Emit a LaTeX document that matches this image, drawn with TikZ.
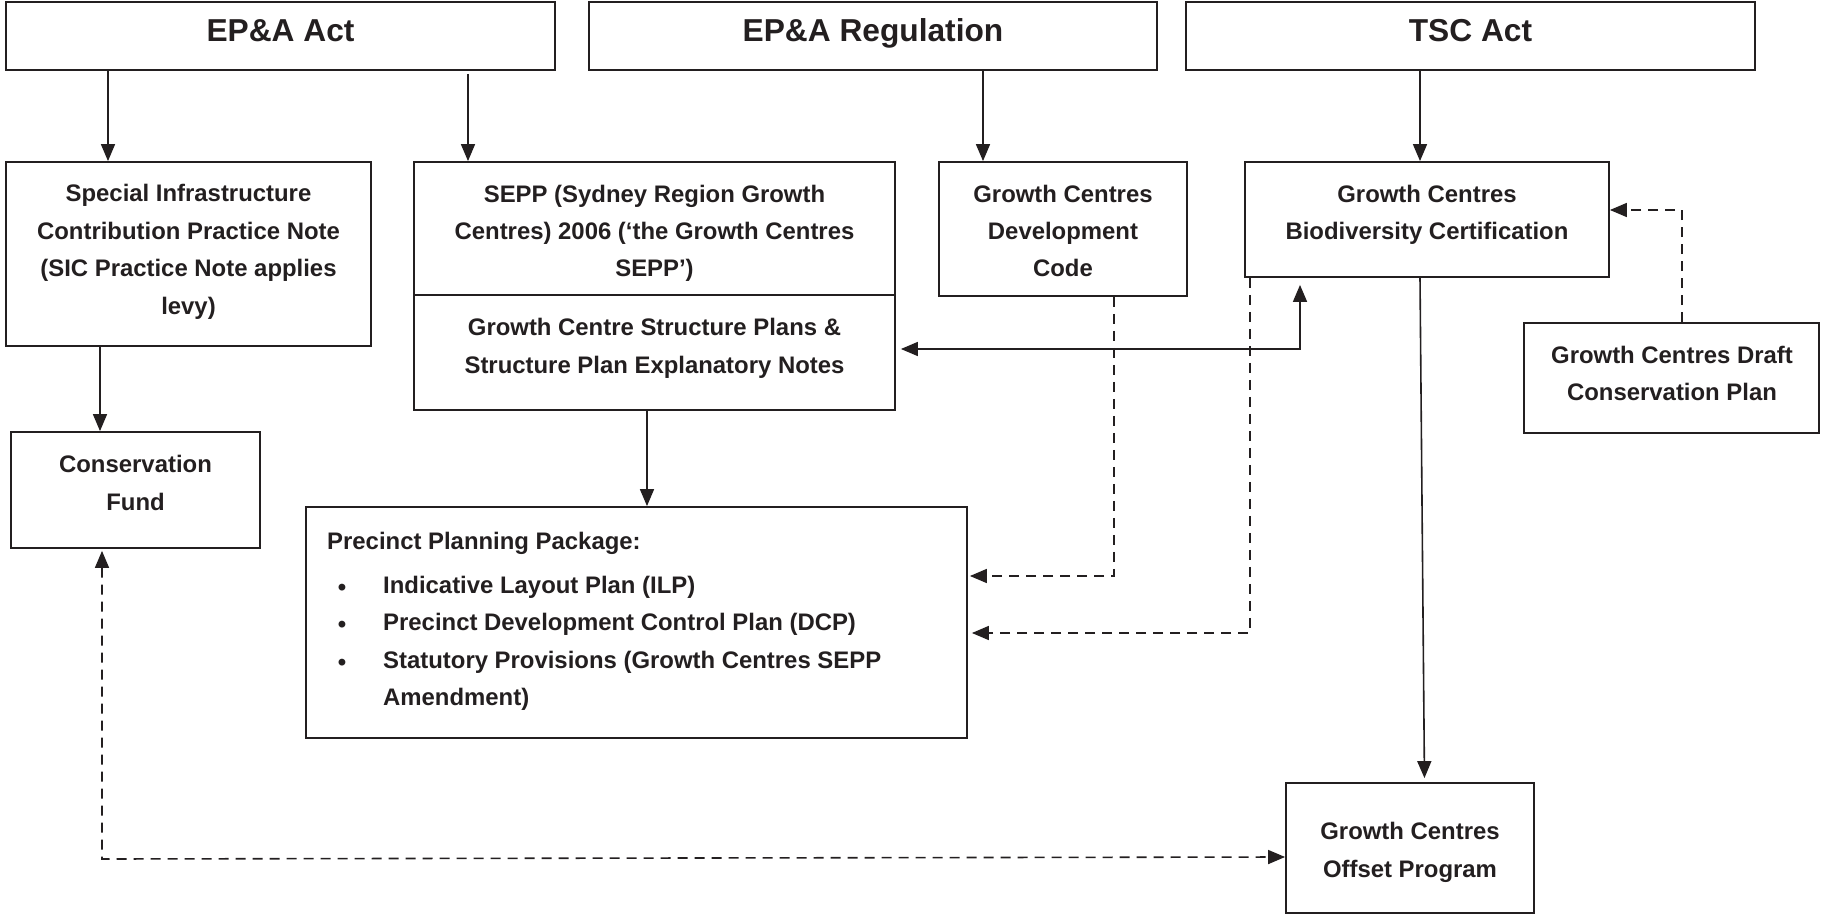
\documentclass[tikz,border=0pt]{standalone}
\usepackage{fontspec}
\setmainfont{Liberation Sans}
\usetikzlibrary{arrows.meta}
\definecolor{ink}{HTML}{231F20}
\newcommand{\bodyf}{\fontsize{23.9pt}{37.4pt}\selectfont\bfseries}
\newcommand{\titlef}{\fontsize{31.7pt}{38pt}\selectfont\bfseries}
\begin{document}
\begin{tikzpicture}[x=1pt,y=-1pt,
  >={Triangle[length=17pt,width=14pt]},
  box/.style={draw=ink, line width=1.8pt, inner sep=0pt},
  txt/.style={text=ink, font=\bodyf, align=center, inner sep=0pt},
  ttl/.style={text=ink, font=\titlef, inner sep=0pt, anchor=base},
  conn/.style={draw=ink, line width=1.6pt, ->},
  dconn/.style={conn, dash pattern=on 10pt off 7pt},
]
\useasboundingbox (0,0) rectangle (1821,915);

% top level acts
\node[box, minimum width=549pt, minimum height=68pt] (epa) at (280.5,36) {};
\node[ttl] (epaT) at (280.5,42) {EP\&A Act};
\node[box, minimum width=568pt, minimum height=68pt] (reg) at (873,36) {};
\node[ttl] (regT) at (873,42) {EP\&A Regulation};
\node[box, minimum width=569pt, minimum height=68pt] (tsc) at (1470.5,36) {};
\node[ttl] (tscT) at (1470.5,42) {TSC Act};

% second row
\node[box, minimum width=365pt, minimum height=184pt] (sic) at (188.5,254) {};
\node[txt] (sicT) at (188.5,250.5) {\strut Special Infrastructure\\Contribution Practice Note\\(SIC Practice Note applies\\levy)\strut};

\node[box, minimum width=481pt, minimum height=133pt] (seppA) at (654.5,228.5) {};
\node[txt] (seppAT) at (654.5,232) {\strut SEPP (Sydney Region Growth\\Centres) 2006 (‘the Growth Centres\\SEPP’)\strut};
\node[box, minimum width=481pt, minimum height=115pt] (seppB) at (654.5,352.5) {};
\node[txt] (seppBT) at (654.5,347) {\strut Growth Centre Structure Plans \&\\Structure Plan Explanatory Notes\strut};

\node[box, minimum width=248pt, minimum height=134pt] (dev) at (1063,229) {};
\node[txt] (devT) at (1063,232) {\strut Growth Centres\\Development\\Code\strut};

\node[box, minimum width=364pt, minimum height=115pt] (bio) at (1427,219.5) {};
\node[txt] (bioT) at (1427,213.5) {\strut Growth Centres\\Biodiversity Certification\strut};

\node[box, minimum width=295pt, minimum height=110pt] (draft) at (1671.5,378) {};
\node[txt] (draftT) at (1672,374.5) {\strut Growth Centres Draft\\Conservation Plan\strut};

% lower row
\node[box, minimum width=249pt, minimum height=116pt] (cf) at (135.5,490) {};
\node[txt] (cfT) at (135.5,484) {\strut Conservation\\Fund\strut};

\node[box, minimum width=661pt, minimum height=231pt] (prec) at (636.5,622.5) {};
\node[txt, anchor=west] (precH) at (327,542) {\strut Precinct Planning Package:};
\node[txt, anchor=west, align=left] (precI) at (383,642) {\strut Indicative Layout Plan (ILP)\\Precinct Development Control Plan (DCP)\\Statutory Provisions (Growth Centres SEPP\\Amendment)\strut};
\node[txt] (b1) at (342,590) {\textbullet};
\node[txt] (b2) at (342,627) {\textbullet};
\node[txt] (b3) at (342,665) {\textbullet};

\node[box, minimum width=248pt, minimum height=130pt] (off) at (1410,848) {};
\node[txt] (offT) at (1410,851) {\strut Growth Centres\\Offset Program\strut};

% solid connectors
\draw[conn] (epa.south -| 108,0) -- (sic.north -| 108,0);
\draw[conn, shorten <=3pt] (epa.south -| 468,0) -- (seppA.north -| 468,0);
\draw[conn] (reg.south -| 983,0) -- (dev.north -| 983,0);
\draw[conn] (tsc.south -| 1420,0) -- (bio.north -| 1420,0);
\draw[conn] (sic.south -| 100,0) -- (cf.north -| 100,0);
\draw[conn] (seppB.south -| 647,0) -- (prec.north -| 647,0);
\draw[conn, <->, shorten <=5pt, shorten >=7pt] (seppB.east |- 0,349) -- (1300,349) -- (bio.south -| 1300,0);
\draw[conn, shorten >=4pt] (bio.south -| 1420,0) -- (off.north -| 1424.5,0);

% dashed connectors
\draw[dconn, shorten >=2pt] (dev.south -| 1114,0) -- (1114,576) -- (prec.east |- 0,576);
\draw[dconn, shorten >=4pt] (bio.south -| 1250,0) -- (1250,633) -- (prec.east |- 0,633);
\draw[dconn] (draft.north -| 1682,0) -- (1682,210) -- (bio.east |- 0,210);
\draw[dconn, <->, shorten <=2pt] (cf.south -| 102,0) -- (102,859) -- (off.west |- 0,857);
\end{tikzpicture}
\end{document}
